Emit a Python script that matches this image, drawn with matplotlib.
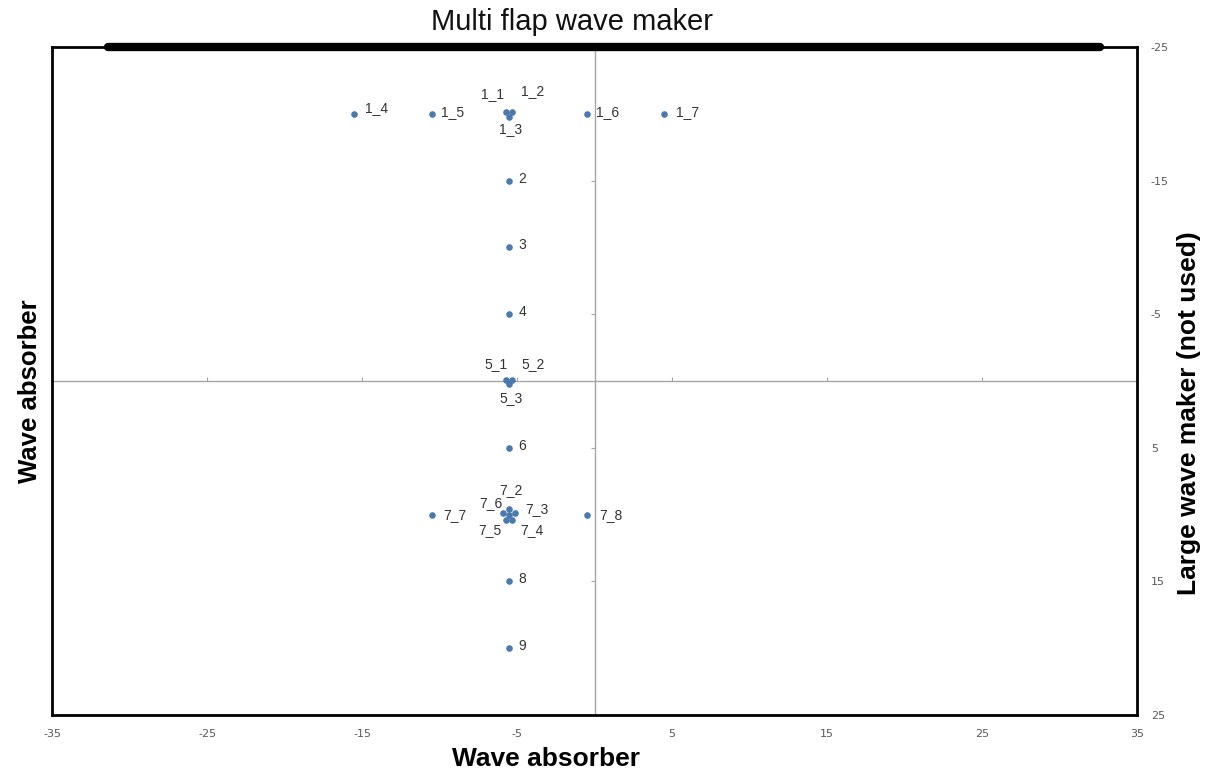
import matplotlib
matplotlib.use("Agg")
import matplotlib.pyplot as plt

plt.rcParams["axes.unicode_minus"] = False

# ================= DATA =================

point_names = ["1_1", "1_2", "1_3", "1_4", "1_5", "1_6", "1_7",
               "2", "3", "4",
               "5_1", "5_2", "5_3",
               "6",
               "7_1", "7_2", "7_3", "7_4", "7_5", "7_6", "7_7", "7_8",
               "8", "9"]

point_x = [-5.7, -5.3, -5.5, -15.5, -10.5, -0.5, 4.5,
           -5.5, -5.5, -5.5,
           -5.7, -5.3, -5.5,
           -5.5,
           -5.5, -5.5, -5.1, -5.3, -5.7, -5.9, -10.5, -0.5,
           -5.5, -5.5]

point_y = [-20.1, -20.1, -19.8, -20, -20, -20, -20,
           -15, -10, -5,
           -0.1, -0.1, 0.2,
           5,
           10, 9.55, 9.85, 10.4, 10.4, 9.85, 10, 10,
           15, 20]

# wave maker line along the top edge
maker_x = [-31.4, 32.6]
maker_y = [-25, -25]

x_ticks = [-35, -25, -15, -5, 5, 15, 25, 35]
y_ticks = [-25, -15, -5, 5, 15, 25]

# label placement (pixels, x right / y up), default is right of the point
label_offsets = {
    "1_1": (-14, 18, "center"), "1_2": (20, 21, "center"), "1_3": (1, -13, "center"),
    "1_4": (11, 6, "left"), "1_7": (12, 2, "left"),
    "5_1": (-10, 16, "center"), "5_2": (21, 16, "center"), "5_3": (2, -14, "center"),
    "7_1": None,
    "7_2": (2, 19, "center"), "7_3": (21, 4, "center"), "7_4": (19, -10, "center"),
    "7_5": (-16, -10, "center"), "7_6": (-12, 10, "center"),
    "7_7": (11, 0, "left"), "7_8": (12, 0, "left"),
}

# ================= FIGURE =================

fig = plt.figure(figsize=(12.05, 7.71), dpi=100)
pos = [0.0432, 0.0726, 0.9004, 0.8664]

# zero lines with small ticks (behind)
ax0 = fig.add_axes(pos)
ax0.set_xlim(-35, 35)
ax0.set_ylim(25, -25)
for s in ["top", "right"]:
    ax0.spines[s].set_visible(False)
ax0.spines["left"].set_position(("data", 0))
ax0.spines["bottom"].set_position(("data", 0))
for s in ["left", "bottom"]:
    ax0.spines[s].set_color("#A6A6A6")
    ax0.spines[s].set_linewidth(1.0)
ax0.set_xticks([t for t in x_ticks if abs(t) != 35])
ax0.set_yticks([t for t in y_ticks if abs(t) != 25])
ax0.tick_params(axis="x", direction="in", length=3, color="#A6A6A6", labelbottom=False)
ax0.tick_params(axis="y", direction="out", length=3, color="#A6A6A6", labelleft=False)

# main frame
ax = fig.add_axes(pos)
ax.set_facecolor("none")
ax.set_xlim(-35, 35)
ax.set_ylim(25, -25)
ax.set_xticks(x_ticks)
ax.set_yticks(y_ticks)
ax.yaxis.tick_right()
ax.tick_params(axis="both", length=0, labelsize=8, labelcolor="#595959")
ax.tick_params(axis="x", pad=10)
ax.tick_params(axis="y", pad=10)
for s in ax.spines.values():
    s.set_color("black")
    s.set_linewidth(2)

ax.plot(maker_x, maker_y, color="black", linewidth=6,
        solid_capstyle="round", clip_on=False, zorder=5)

ax.scatter(point_x, point_y, s=14, color="#4A79AD", zorder=4)

for name, x, y in zip(point_names, point_x, point_y):
    off = label_offsets.get(name, (9, 2, "left"))
    if off is None:
        continue
    dx, dy, ha = off
    ax.annotate(name, (x, y), xytext=(dx, dy), textcoords="offset pixels",
                ha=ha, va="center", fontsize=10, color="#333333",
                family="Liberation Sans")

fig.text(0.4747, 0.971, "Multi flap wave maker", ha="center", va="center",
         fontsize=21, family="Liberation Sans", color="#111111")
fig.text(0.453, 0.015, "Wave absorber", ha="center", va="center",
         fontsize=19, fontweight="bold", family="Liberation Sans")
fig.text(0.025, 0.492, "Wave absorber", ha="center", va="center", rotation=90,
         fontsize=18.5, fontweight="bold", family="Liberation Sans")
fig.text(0.9867, 0.464, "Large wave maker (not used)", ha="center", va="center",
         rotation=90, fontsize=19, fontweight="bold", family="Liberation Sans")

fig.savefig("out.png", dpi=100)
